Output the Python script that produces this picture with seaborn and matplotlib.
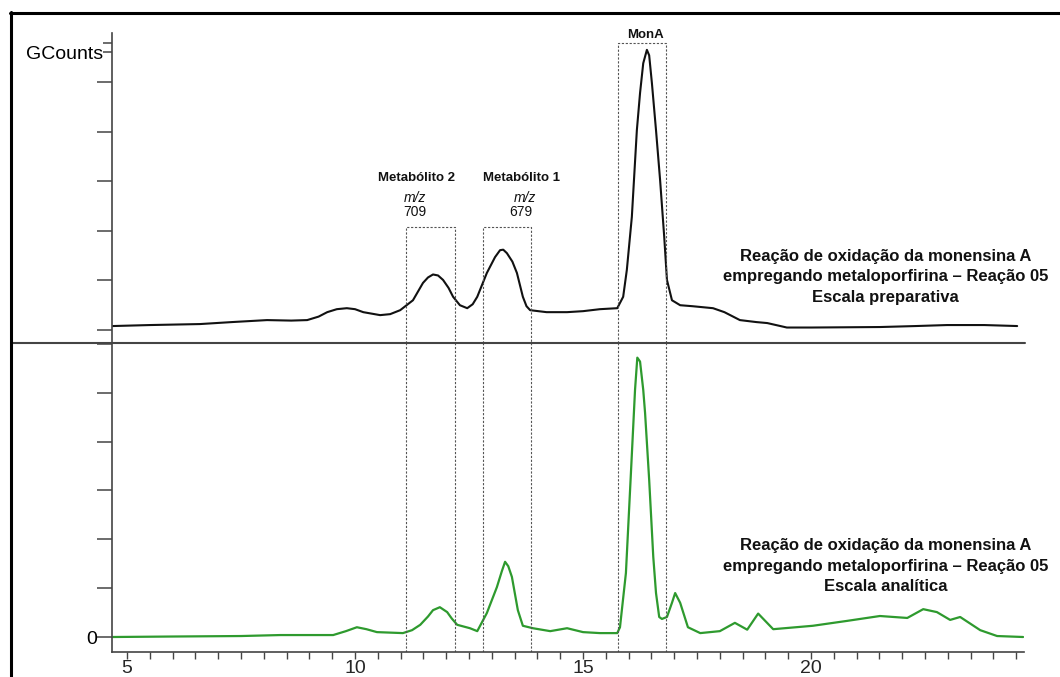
import matplotlib
matplotlib.use("Agg")
import matplotlib.pyplot as plt
from matplotlib.lines import Line2D
from matplotlib.ticker import MultipleLocator
import pandas as pd
import seaborn as sns

# ---------------- data (retention time in min, signal in GCounts-scale units) ----------------
time_prep = [4.69, 5.5, 6.6, 7.3, 8.07, 8.6, 8.95, 9.2, 9.39, 9.6, 9.82, 10.0, 10.18,
             10.55, 10.77, 10.99, 11.27, 11.49, 11.6, 11.71, 11.82, 11.93, 12.05, 12.15, 12.30, 12.46,
             12.58, 12.68, 12.89, 13.07, 13.18, 13.25, 13.33, 13.45, 13.55, 13.68, 13.76, 13.84, 14.2, 14.65,
             15.0, 15.37, 15.75, 15.88, 15.96, 16.07, 16.18, 16.25, 16.32, 16.40, 16.45,
             16.51, 16.60, 16.69, 16.78, 16.84, 16.95, 17.13, 17.4, 17.85, 18.1, 18.44, 18.8, 19.04, 19.47,
             20.0, 21.51, 22.3, 22.98, 23.8, 24.52]
signal_prep = [0.08, 0.10, 0.12, 0.16, 0.20, 0.19, 0.20, 0.27, 0.36, 0.42, 0.44, 0.42, 0.36,
               0.30, 0.32, 0.40, 0.60, 0.95, 1.06, 1.12, 1.10, 1.01, 0.85, 0.67, 0.50, 0.44,
               0.52, 0.67, 1.15, 1.47, 1.61, 1.62, 1.55, 1.38, 1.15, 0.67, 0.48, 0.40, 0.36, 0.36,
               0.38, 0.42, 0.44, 0.67, 1.21, 2.28, 4.03, 4.78, 5.38, 5.65, 5.54,
               4.98, 4.03, 3.02, 1.88, 1.01, 0.60, 0.50, 0.48, 0.44, 0.36, 0.20, 0.16, 0.14, 0.05,
               0.05, 0.06, 0.08, 0.10, 0.10, 0.08]

time_anal = [4.69, 6.0, 7.5, 8.36, 9.0, 9.52, 9.80, 10.04, 10.25, 10.48,
             11.05, 11.25, 11.43, 11.6, 11.71, 11.86, 12.02, 12.12, 12.24, 12.52, 12.68, 12.89,
             13.11, 13.22, 13.29, 13.36, 13.44, 13.57, 13.68, 13.90, 14.28, 14.65, 15.0, 15.37,
             15.75, 15.81, 15.94, 16.05, 16.14, 16.19, 16.25, 16.32, 16.36, 16.45, 16.54, 16.60,
             16.67, 16.73, 16.84, 16.95, 17.02, 17.13, 17.30, 17.57, 18.0, 18.33, 18.60, 18.84,
             19.17, 20.04, 20.79, 21.51, 22.11, 22.46, 22.76, 23.05, 23.27, 23.71,
             24.08, 24.65]
signal_anal = [0.0, 0.01, 0.02, 0.04, 0.04, 0.04, 0.12, 0.20, 0.16, 0.10,
               0.08, 0.14, 0.25, 0.42, 0.55, 0.61, 0.51, 0.38, 0.25, 0.18, 0.12, 0.49,
               1.02, 1.35, 1.54, 1.45, 1.23, 0.55, 0.23, 0.18, 0.12, 0.18, 0.10, 0.08,
               0.08, 0.20, 1.31, 3.36, 5.06, 5.72, 5.64, 5.06, 4.59, 3.22, 1.64, 0.90,
               0.41, 0.37, 0.41, 0.70, 0.90, 0.70, 0.20, 0.08, 0.12, 0.29, 0.15, 0.48,
               0.16, 0.23, 0.33, 0.43, 0.39, 0.57, 0.51, 0.35, 0.41, 0.14,
               0.02, 0.0]

x_major_ticks = [5, 10, 15, 20]
x_major_labels = ["5", "10", "15", "20"]

box_names = ["Metabólito 2", "Metabólito 1", "MonA"]
box_starts = [11.12, 12.81, 15.77]
box_ends = [12.19, 13.86, 16.82]
box_tops = [2.08, 2.08, 5.79]
box_mz = ["709", "679", None]

panel_titles = [
    "Reação de oxidação da monensina A\nempregando metaloporfirina – Reação 05\nEscala preparativa",
    "Reação de oxidação da monensina A\nempregando metaloporfirina – Reação 05\nEscala analítica",
]

# ---------------- figure ----------------
sns.set_theme(style="white")
plt.rcParams["font.family"] = ["Liberation Sans", "DejaVu Sans"]

W, H = 1060, 677
fig = plt.figure(figsize=(W / 100, H / 100), dpi=100)
fig.patch.set_facecolor("white")

left_px, right_px = 112, 1024
ax_top = fig.add_axes([left_px / W, 1 - 343 / H, (right_px - left_px) / W, 310 / H])
ax_bot = fig.add_axes([left_px / W, 1 - 652 / H, (right_px - left_px) / W, 309 / H], sharex=ax_top)

df_prep = pd.DataFrame({"t": time_prep, "s": signal_prep})
df_anal = pd.DataFrame({"t": time_anal, "s": signal_anal})
sns.lineplot(data=df_prep, x="t", y="s", ax=ax_top, color="#111111", linewidth=1.5)
sns.lineplot(data=df_anal, x="t", y="s", ax=ax_bot, color="#2e9a2e", linewidth=1.6)

ax_top.set_xlim(4.67, 24.67)
ax_top.set_ylim(-0.262, 5.99)
ax_bot.set_ylim(-0.307, 6.02)

spine_c = "#444444"
for ax in (ax_top, ax_bot):
    ax.set_xlabel("")
    ax.set_ylabel("")
    ax.set_facecolor("white")
    for s in ("top", "right"):
        ax.spines[s].set_visible(False)
    ax.spines["left"].set_color(spine_c)
    ax.spines["left"].set_linewidth(1.2)
ax_top.spines["bottom"].set_visible(False)
ax_bot.spines["bottom"].set_color(spine_c)
ax_bot.spines["bottom"].set_linewidth(1.2)

# y ticks
ax_top.set_yticks([0, 1, 2, 3, 4, 5])
ax_top.set_yticklabels([""] * 6)
ax_top.set_yticks([5.6, 5.79], minor=True)
ax_top.set_yticklabels(["GCounts", ""], minor=True, fontsize=14)
ax_top.tick_params(axis="y", which="minor", direction="out", length=6.5, width=1.1,
                   color=spine_c, pad=0, labelcolor="black", left=True)
ax_bot.set_yticks([0, 1, 2, 3, 4, 5, 6])
ax_bot.set_yticklabels(["0", "", "", "", "", "", ""], fontsize=14)
for ax in (ax_top, ax_bot):
    ax.tick_params(axis="y", which="major", direction="out", length=10.5, width=1.1,
                   color=spine_c, pad=0, labelcolor="black", left=True)

# x ticks
ax_top.tick_params(axis="x", which="both", bottom=False, labelbottom=False)
ax_bot.set_xticks(x_major_ticks)
ax_bot.set_xticklabels(x_major_labels, fontsize=14)
ax_bot.xaxis.set_minor_locator(MultipleLocator(0.5))
ax_bot.tick_params(axis="x", which="both", direction="out", length=5, width=1.0,
                   color=spine_c, pad=1, bottom=True)

# dotted boxes
box_kw = dict(color="#555555", linewidth=0.8, linestyle=(0, (2, 1.5)))
for a, b, top in zip(box_starts, box_ends, box_tops):
    ax_top.plot([a, a, b, b], [-0.262, top, top, -0.262], clip_on=False, **box_kw)
    ax_bot.axvline(a, **box_kw)
    ax_bot.axvline(b, **box_kw)

# box labels
txt_kw = dict(ha="center", va="center", color="#111111")
ax_top.text(11.34, 3.07, box_names[0], fontweight="bold", fontsize=9.5, **txt_kw)
ax_top.text(11.32, 2.67, "m/z", style="italic", fontsize=10, **txt_kw)
ax_top.text(11.32, 2.37, box_mz[0], fontsize=10, **txt_kw)
ax_top.text(13.66, 3.07, box_names[1], fontweight="bold", fontsize=9.5, **txt_kw)
ax_top.text(13.72, 2.67, "m/z", style="italic", fontsize=10, **txt_kw)
ax_top.text(13.64, 2.37, box_mz[1], fontsize=10, **txt_kw)
ax_top.text(16.38, 5.95, box_names[2], fontweight="bold", fontsize=9.5, clip_on=False, **txt_kw)

# panel descriptions
ax_top.text(21.64, 1.07, panel_titles[0], ha="center", va="center", fontsize=12,
            fontweight="bold", linespacing=1.45, color="#111111")
ax_bot.text(21.64, 1.45, panel_titles[1], ha="center", va="center", fontsize=12,
            fontweight="bold", linespacing=1.45, color="#111111")

# divider and outer frame
fig.add_artist(Line2D([12 / W, 1025 / W], [1 - 343 / H, 1 - 343 / H], color=spine_c,
                      linewidth=1.5, transform=fig.transFigure))
fig.add_artist(Line2D([10.5 / W, 10.5 / W], [0, 1 - 12 / H], color="black",
                      linewidth=2.2, transform=fig.transFigure))
fig.add_artist(Line2D([9.5 / W, 1], [1 - 12.5 / H, 1 - 12.5 / H], color="black",
                      linewidth=2.2, transform=fig.transFigure))

fig.savefig("out.png", dpi=100, facecolor="white")
